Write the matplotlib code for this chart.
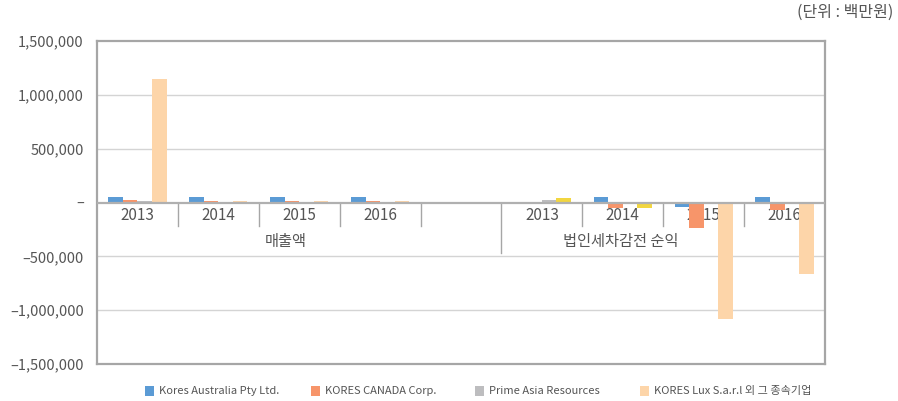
#!/usr/bin/env python3
import numpy as np
import matplotlib
matplotlib.use('Agg')
import matplotlib.pyplot as plt
from matplotlib.patches import Rectangle

plt.rcParams['font.family'] = ['Noto Sans CJK KR', 'DejaVu Sans']

YEARS = ['2013', '2014', '2015', '2016']
GROUPS = ['매출액', '법인세차감전 순익']
SERIES = ['Kores Australia Pty Ltd.', 'KORES CANADA Corp.',
          'Prime Asia Resources', 'KORES Lux S.a.r.l 외 그 종속기업']
COLORS = ['#5B9BD5', '#F7956A', '#BDBDBF', '#FDD5A9']
YELLOW = '#F2D640'

# 매출액 (sales), 2013..2016
sales_australia = [52000, 52000, 52000, 52000]
sales_canada = [21000, 12000, 12000, 13000]
sales_prime = [12000, 8000, 8000, 8000]
sales_lux = [1145000, 10000, 10000, 10000]

# 법인세차감전 순익 (pre-tax income), 2013..2016
income_australia = [0, 50000, -45000, 50000]
income_canada = [0, -47000, -235000, -68000]
income_prime = [25000, 0, 0, 0]
income_lux = [40000, -47000, -1081000, -662000]

YTICKS = [1500000, 1000000, 500000, 0, -500000, -1000000, -1500000]
YTICK_LABELS = ['1,500,000', '1,000,000', '500,000', '–',
                '–500,000', '–1,000,000', '–1,500,000']

TEXT = '#555555'

fig = plt.figure(figsize=(8.98, 4.01), dpi=100)
ax = fig.add_axes([97 / 898, 1 - 364 / 401, 728 / 898, 323 / 401])

# slot positions: 0-3 sales, 4 empty, 5-8 income
x_sales = np.arange(4)
x_income = np.arange(4) + 5
bw = 0.18
offsets = (np.arange(4) - 1.5) * bw

sales = [sales_australia, sales_canada, sales_prime, sales_lux]
income = [income_australia, income_canada, income_prime, income_lux]
for i in range(4):
    ax.bar(x_sales + offsets[i], sales[i], width=bw, color=COLORS[i],
           zorder=3, linewidth=0)
    cols = [COLORS[i]] * 4
    if i == 3:
        cols[0] = YELLOW
        cols[1] = YELLOW
    ax.bar(x_income + offsets[i], income[i], width=bw, color=cols,
           zorder=3, linewidth=0)

ax.set_xlim(-0.5, 8.5)
ax.set_ylim(-1500000, 1500000)
ax.set_yticks(YTICKS)
ax.set_yticklabels(YTICK_LABELS, fontsize=10.5, color=TEXT)
ax.tick_params(axis='y', length=0, pad=9.5)
ax.set_xticks([])

for y in [1000000, 500000, -500000, -1000000]:
    ax.axhline(y, color='#D4D4D4', linewidth=1.0, zorder=1)
ax.axhline(0, color='#B0B0B0', linewidth=1.6, zorder=4)

for s in ax.spines.values():
    s.set_color('#A6A6A6')
    s.set_linewidth(1.6)

# category separators
for xs in [0.5, 1.5, 2.5, 3.5, 5.5, 6.5, 7.5]:
    ax.plot([xs, xs], [0, -215000], color='#A6A6A6', linewidth=1.0, zorder=2)
ax.plot([4.5, 4.5], [0, -465000], color='#A6A6A6', linewidth=1.0, zorder=2)

for xs in list(x_sales) + list(x_income):
    ax.text(xs, -120000, YEARS[xs if xs < 4 else xs - 5], ha='center',
            va='center', fontsize=11, color=TEXT, zorder=2)
ax.text(1.83, -360000, GROUPS[0], ha='center', va='center', fontsize=11,
        color=TEXT, zorder=2)
ax.text(5.97, -360000, GROUPS[1], ha='center', va='center', fontsize=11,
        color=TEXT, zorder=2)

fig.text(893 / 898, 1 - 12 / 401, '(단위 : 백만원)', ha='right', va='center',
         fontsize=11.5, color=TEXT)

# legend
leg_x = [145, 311, 475, 640]
for i, name in enumerate(SERIES):
    fig.patches.append(Rectangle((leg_x[i] / 898, 1 - 396 / 401), 9 / 898,
                                 10 / 401, transform=fig.transFigure,
                                 color=COLORS[i], linewidth=0))
    fig.text((leg_x[i] + 14) / 898, 1 - 391 / 401, name, ha='left',
             va='center', fontsize=8, color=TEXT)

fig.savefig('out.png', dpi=100)
